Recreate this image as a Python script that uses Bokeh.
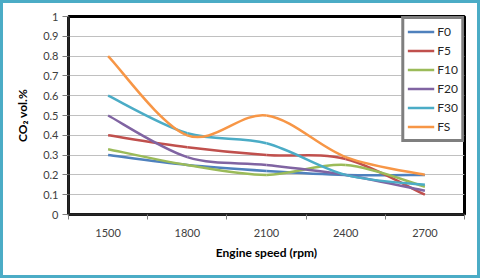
from bokeh.plotting import figure
from bokeh.models import Range1d, FixedTicker, Legend, LegendItem
from bokeh.embed import file_html
from bokeh.resources import INLINE

# ---- data ----
speeds = [1500, 1800, 2100, 2400, 2700]
speed_labels = ["1500", "1800", "2100", "2400", "2700"]
f0 = [0.30, 0.25, 0.22, 0.20, 0.20]
f5 = [0.40, 0.34, 0.30, 0.28, 0.10]
f10 = [0.33, 0.25, 0.20, 0.25, 0.14]
f20 = [0.50, 0.29, 0.25, 0.20, 0.12]
f30 = [0.60, 0.41, 0.36, 0.20, 0.15]
fs = [0.80, 0.40, 0.50, 0.29, 0.20]
series_names = ["F0", "F5", "F10", "F20", "F30", "FS"]
series_values = [f0, f5, f10, f20, f30, fs]
colors = ["#4f81bd", "#c0504d", "#9bbb59", "#8064a2", "#4bacc6", "#f79646"]
y_ticks = [0, 0.1, 0.2, 0.3, 0.4, 0.5, 0.6, 0.7, 0.8, 0.9, 1]
y_tick_labels = ["0", "0.1", "0.2", "0.3", "0.4", "0.5", "0.6", "0.7", "0.8", "0.9", "1"]

FONT = "Lato"
W, H = 480, 278
step = speeds[1] - speeds[0]

p = figure(width=W, height=H, output_backend="svg", toolbar_location=None,
           x_range=Range1d(speeds[0] - step / 2, speeds[-1] + step / 2),
           y_range=Range1d(0, 1),
           min_border_left=68, min_border_right=16, min_border_top=16, min_border_bottom=64)
# transparent canvas border so the host's cyan inset frame shows through
p.styles = {"background-color": "white", "box-shadow": "inset 0 0 0 3px #4bacc6"}
p.background_fill_color = "white"
p.border_fill_color = "white"
p.border_fill_alpha = 0
p.outline_line_color = "black"
p.outline_line_width = 3
p.outline_line_alpha = 1

# grid
p.xgrid.visible = False
p.ygrid.grid_line_color = "#c0c0c0"
p.ygrid.grid_line_width = 1
p.ygrid.ticker = FixedTicker(ticks=y_ticks[1:-1])

# x axis
xa = p.xaxis[0]
xa.ticker = FixedTicker(ticks=speeds,
                        minor_ticks=[s - step / 2 for s in speeds] + [speeds[-1] + step / 2])
xa.major_label_overrides = {s: l for s, l in zip(speeds, speed_labels)}
xa.major_tick_out = 0
xa.major_tick_in = 0
xa.minor_tick_out = 5
xa.minor_tick_in = 0
xa.minor_tick_line_color = "#808080"
xa.axis_line_color = "#262626"
xa.axis_line_width = 2.5
xa.major_label_standoff = 9
xa.major_label_text_font = FONT
xa.major_label_text_font_size = "11px"
xa.major_label_text_color = "#404040"
xa.axis_label = "Engine speed (rpm)"
xa.axis_label_text_font = FONT
xa.axis_label_text_font_style = "bold"
xa.axis_label_text_font_size = "12px"
xa.axis_label_text_color = "#000000"
xa.axis_label_standoff = 5

# y axis
ya = p.yaxis[0]
ya.ticker = FixedTicker(ticks=y_ticks)
ya.major_label_overrides = {t: l for t, l in zip(y_ticks, y_tick_labels)}
ya.major_tick_out = 6
ya.major_tick_in = 0
ya.major_tick_line_color = "#808080"
ya.minor_tick_out = 0
ya.minor_tick_in = 0
ya.axis_line_color = "#262626"
ya.axis_line_width = 2.5
ya.major_label_standoff = 4
ya.major_label_text_font = FONT
ya.major_label_text_font_size = "11px"
ya.major_label_text_color = "#404040"
ya.axis_label = "CO\u2082 vol.%"
ya.axis_label_text_font = FONT
ya.axis_label_text_font_style = "bold"
ya.axis_label_text_font_size = "12px"
ya.axis_label_text_color = "#000000"
ya.axis_label_standoff = 10

# smoothed lines (Excel-style Bezier smoothing derived from the data points)
items = []
for name, vals, col in zip(series_names, series_values, colors):
    n = len(speeds)
    x0, y0, x1, y1, cx0, cy0, cx1, cy1 = [], [], [], [], [], [], [], []
    for i in range(n - 1):
        pm = max(i - 1, 0)
        pp = min(i + 2, n - 1)
        x0.append(speeds[i]); y0.append(vals[i])
        x1.append(speeds[i + 1]); y1.append(vals[i + 1])
        cx0.append(speeds[i] + (speeds[i + 1] - speeds[pm]) / 6)
        cy0.append(vals[i] + (vals[i + 1] - vals[pm]) / 6)
        cx1.append(speeds[i + 1] - (speeds[pp] - speeds[i]) / 6)
        cy1.append(vals[i + 1] - (vals[pp] - vals[i]) / 6)
    p.bezier(x0=x0, y0=y0, x1=x1, y1=y1, cx0=cx0, cy0=cy0, cx1=cx1, cy1=cy1,
             line_color=col, line_width=2.5)
    # single-point line: draws nothing in the plot, supplies the legend swatch
    r = p.line(x=[speeds[0]], y=[vals[0]], line_color=col, line_width=2.5)
    items.append(LegendItem(label=name, renderers=[r]))

legend = Legend(items=items, location="top_right", margin=0, padding=3, spacing=0,
                label_height=19, glyph_height=19, glyph_width=27, label_standoff=3,
                border_line_color="black", border_line_width=3,
                background_fill_color="white", background_fill_alpha=1,
                label_text_font=FONT, label_text_font_size="12px",
                label_text_color="#262626")
p.add_layout(legend, "center")

open("out.html", "w").write(file_html(p, INLINE))
